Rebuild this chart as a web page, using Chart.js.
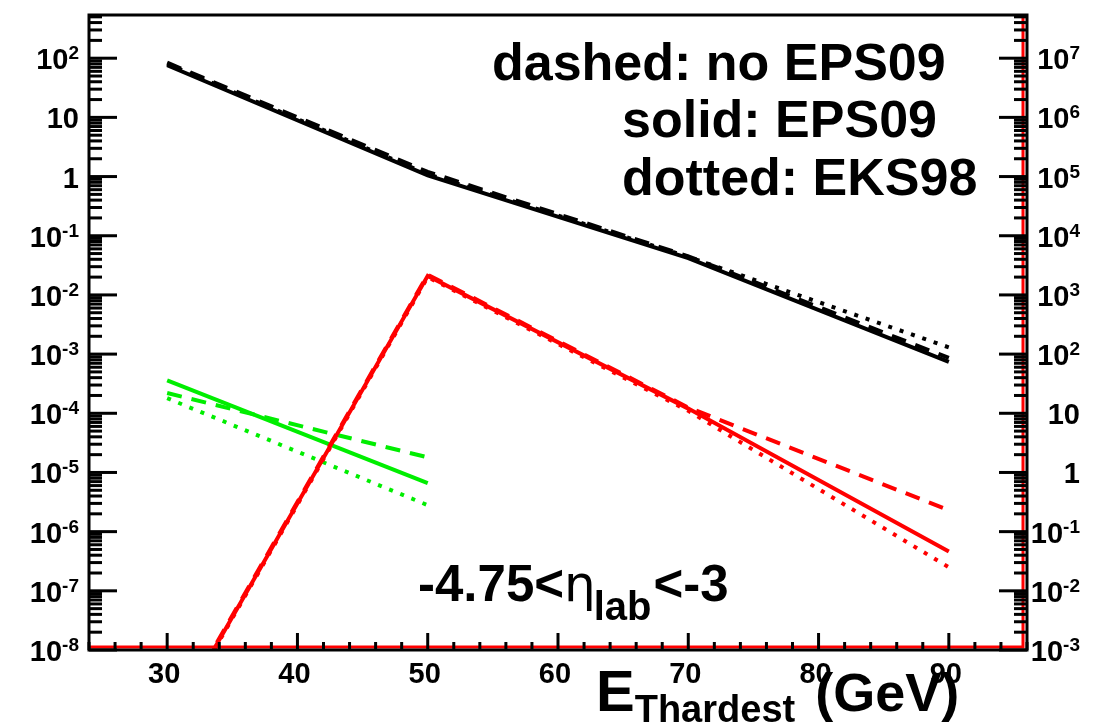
<!DOCTYPE html>
<html>
<head>
<meta charset="utf-8">
<script src="https://cdn.jsdelivr.net/npm/chart.js@4"></script>
<style>
  html, body { margin: 0; padding: 0; background: #ffffff; }
  canvas { display: block; }
</style>
</head>
<body>
<canvas id="spectrum" width="1108" height="726"></canvas>
<script>
// Thardest-jet energy spectra, three nPDF treatments per channel
var energies      = [30, 50, 70, 90];
var blackSolid    = [76, 1.05, 0.042, 7.4e-4];
var blackDashed   = [84, 1.2, 0.045, 8.6e-4];
var blackDotted   = [80, 1.1, 0.044, 1.3e-3];
var redSolid      = [4.3e-10, 0.021, 1.2e-4, 4.6e-7];
var redDashed     = [4.6e-10, 0.022, 1.25e-4, 2.3e-6];
var redDotted     = [4.1e-10, 0.020, 1.1e-4, 2.5e-7];
var greenEnergies = [30, 50];
var greenSolid    = [3.6e-4, 6.6e-6];
var greenDashed   = [2.2e-4, 1.8e-5];
var greenDotted   = [1.8e-4, 2.8e-6];

var xMajorTicks = [30, 40, 50, 60, 70, 80, 90];
var leftExps    = [-8, -7, -6, -5, -4, -3, -2, -1, 0, 1, 2];
var rightExps   = [-3, -2, -1, 0, 1, 2, 3, 4, 5, 6, 7];
var legendLines = ['dashed: no EPS09', 'solid: EPS09', 'dotted: EKS98'];

var DASH = [15, 10];
var DOT = [4, 8];

function pts(xs, ys) {
  return xs.map(function (x, i) { return { x: x, y: ys[i] }; });
}

function series(xs, ys, color, dash) {
  return {
    data: pts(xs, ys),
    borderColor: color,
    borderWidth: 4,
    borderDash: dash,
    pointRadius: 0,
    tension: 0,
    fill: false
  };
}

var BOLD = '"Liberation Sans", Arial, Helvetica, sans-serif';
var TICK_PX = 29, SUP_PX = 19;

// 10^n label, right-aligned at xr, tick at y
function powLabel(ctx, n, xr, y) {
  ctx.textAlign = 'left';
  ctx.textBaseline = 'alphabetic';
  ctx.fillStyle = '#000';
  if (n === 0 || n === 1) {
    var s = n === 0 ? '1' : '10';
    ctx.font = 'bold ' + TICK_PX + 'px ' + BOLD;
    ctx.fillText(s, xr - ctx.measureText(s).width, y + 11);
    return;
  }
  ctx.font = 'bold ' + SUP_PX + 'px ' + BOLD;
  var sup = String(n);
  var ws = ctx.measureText(sup).width;
  ctx.font = 'bold ' + TICK_PX + 'px ' + BOLD;
  var wb = ctx.measureText('10').width;
  var x0 = xr - ws - wb;
  ctx.fillText('10', x0, y + 11);
  ctx.font = 'bold ' + SUP_PX + 'px ' + BOLD;
  ctx.fillText(sup, x0 + wb, y + 1);
}

var rootFrame = {
  id: 'rootFrame',
  afterDraw: function (chart) {
    var ctx = chart.ctx;
    var a = chart.chartArea;
    var xs = chart.scales.x, ys = chart.scales.y, y2 = chart.scales.y2;
    ctx.save();

    // red histogram edges along bottom and right
    ctx.strokeStyle = '#ff0000';
    ctx.lineWidth = 3;
    ctx.beginPath();
    ctx.moveTo(a.left, a.bottom - 3);
    ctx.lineTo(a.right - 4, a.bottom - 3);
    ctx.lineTo(a.right - 4, a.top);
    ctx.stroke();

    // frame
    ctx.strokeStyle = '#000';
    ctx.lineWidth = 3;
    ctx.strokeRect(a.left, a.top, a.right - a.left, a.bottom - a.top);

    // log ticks on both vertical axes (inward)
    function logTicks(scale, side) {
      var lo = Math.floor(Math.log10(scale.min));
      var hi = Math.ceil(Math.log10(scale.max));
      for (var e = lo; e <= hi; e++) {
        for (var m = 1; m <= 9; m++) {
          var v = m * Math.pow(10, e);
          if (v < scale.min * 0.999 || v > scale.max) continue;
          var py = scale.getPixelForValue(v);
          var len = m === 1 ? 28 : 13;
          ctx.beginPath();
          if (side === 'left') { ctx.moveTo(a.left, py); ctx.lineTo(a.left + len, py); }
          else { ctx.moveTo(a.right, py); ctx.lineTo(a.right - len, py); }
          ctx.stroke();
        }
      }
    }
    logTicks(ys, 'left');
    logTicks(y2, 'right');

    // x ticks every 2 GeV, majors every 10
    for (var t = Math.ceil(xs.min / 2) * 2; t <= xs.max; t += 2) {
      var px = xs.getPixelForValue(t);
      var l = t % 10 === 0 ? 17 : 8;
      ctx.beginPath();
      ctx.moveTo(px, a.bottom);
      ctx.lineTo(px, a.bottom - l);
      ctx.stroke();
    }

    // tick labels
    leftExps.forEach(function (n) {
      powLabel(ctx, n, 79, ys.getPixelForValue(Math.pow(10, n)));
    });
    rightExps.forEach(function (n) {
      powLabel(ctx, n, 1080, y2.getPixelForValue(Math.pow(10, n)));
    });
    ctx.font = 'bold ' + TICK_PX + 'px ' + BOLD;
    ctx.textAlign = 'center';
    ctx.textBaseline = 'alphabetic';
    xMajorTicks.forEach(function (t) {
      ctx.fillText(String(t), xs.getPixelForValue(t) - 3, 683);
    });

    // legend text
    ctx.font = 'bold 52px ' + BOLD;
    ctx.textAlign = 'left';
    ctx.fillText(legendLines[0], 492, 80);
    ctx.fillText(legendLines[1], 622, 137);
    ctx.fillText(legendLines[2], 622, 195);

    // pseudorapidity window
    var x = 418;
    ctx.font = 'bold 51px ' + BOLD;
    ctx.fillText('-4.75<', x, 601);
    x += ctx.measureText('-4.75<').width;
    ctx.font = '50px "DejaVu Sans", sans-serif';
    ctx.fillText('\u03b7', x, 601);
    x += ctx.measureText('\u03b7').width - 2;
    ctx.font = 'bold 40px ' + BOLD;
    ctx.fillText('lab', x, 620);
    x += ctx.measureText('lab').width + 2;
    ctx.font = 'bold 51px ' + BOLD;
    ctx.fillText('<-3', x, 601);

    // axis title
    x = 596;
    ctx.font = 'bold 58px ' + BOLD;
    ctx.fillText('E', x, 711);
    x += ctx.measureText('E').width;
    ctx.font = 'bold 38px ' + BOLD;
    ctx.fillText('Thardest', x, 722);
    x += ctx.measureText('Thardest').width + 20;
    ctx.font = 'bold 54px ' + BOLD;
    ctx.fillText('(GeV)', x, 711);

    ctx.restore();
  }
};

new Chart(document.getElementById('spectrum'), {
  type: 'line',
  data: {
    datasets: [
      series(energies, blackSolid, '#000000', []),
      series(energies, blackDashed, '#000000', DASH),
      series(energies, blackDotted, '#000000', DOT),
      series(energies, redSolid, '#ff0000', []),
      series(energies, redDashed, '#ff0000', DASH),
      series(energies, redDotted, '#ff0000', DOT),
      series(greenEnergies, greenSolid, '#00ee00', []),
      series(greenEnergies, greenDashed, '#00ee00', DASH),
      series(greenEnergies, greenDotted, '#00ee00', DOT)
    ]
  },
  options: {
    responsive: false,
    animation: false,
    layout: { padding: { left: 89, right: 81, top: 15, bottom: 76 } },
    plugins: { legend: { display: false }, tooltip: { enabled: false } },
    scales: {
      x: { type: 'linear', min: 24, max: 96, display: false },
      y: { type: 'logarithmic', min: 1e-8, max: Math.pow(10, 2.73), display: false },
      y2: { type: 'logarithmic', position: 'right', min: 1e-3, max: Math.pow(10, 7.73), display: false }
    }
  },
  plugins: [rootFrame]
});
</script>
</body>
</html>
